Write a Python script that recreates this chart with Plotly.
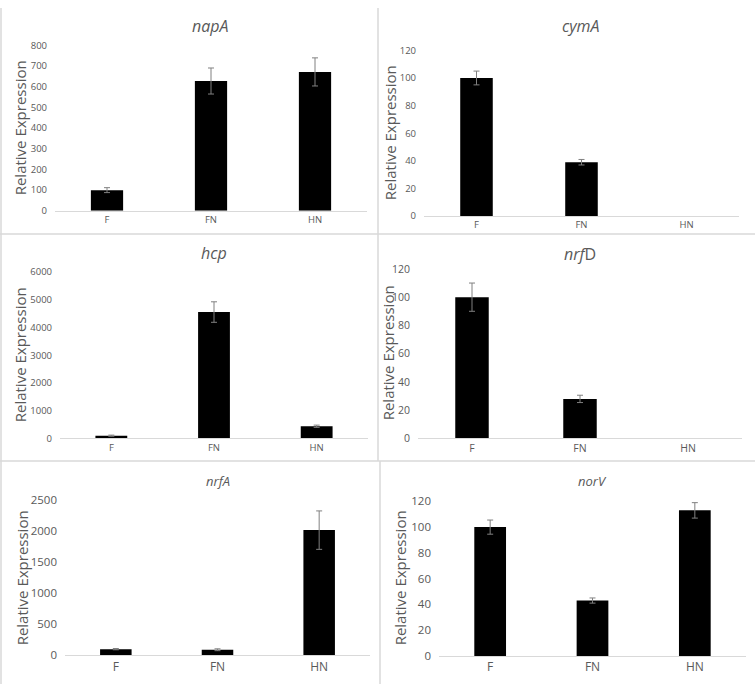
import plotly.graph_objects as go

W, H = 755, 691

categories = ["F", "FN", "HN"]

napA_vals = [100, 628, 672]
napA_err = [12, 63, 68]
cymA_vals = [100, 39, 0]
cymA_err = [5, 2, None]
hcp_vals = [100, 4560, 440]
hcp_err = [20, 370, 40]
nrfD_vals = [100, 28, 0]
nrfD_err = [10, 2.6, None]
nrfA_vals = [100, 90, 2020]
nrfA_err = [10, 15, 310]
norV_vals = [100, 43, 113]
norV_err = [5.5, 2, 6]

titles = ["<i>napA</i>", "<i>cymA</i>", "<i>hcp</i>", "<i>nrf</i>D", "<i>nrfA</i>", "<i>norV</i>"]
y_max = [800, 120, 6000, 120, 2500, 120]
y_dtick = [100, 20, 1000, 20, 500, 20]
y_title = "Relative Expression"

series = [
    (napA_vals, napA_err), (cymA_vals, cymA_err), (hcp_vals, hcp_err),
    (nrfD_vals, nrfD_err), (nrfA_vals, nrfA_err), (norV_vals, norV_err),
]

# layout geometry in pixels: x0, x1, ytop, ybottom
boxes = [
    (55, 367, 38.3, 207.3),
    (424, 739, 43.3, 212.7),
    (60, 368, 270, 440),
    (418, 742, 266.7, 440),
    (65, 370, 503.3, 661.7),
    (439, 746, 504.3, 662.3),
]
title_pos = [(211, 18, 16), (581, 18, 16), (214, 250, 16), (580, 251, 16), (218, 483, 13), (592, 483, 13)]
ytitle_pos = [(20, 123), (390, 128), (20, 355), (388, 353), (22, 583), (400, 583)]
tick_size = [9.5, 9.5, 9.5, 10.5, 11.5, 11.5]
xtick_size = [9.5, 9.5, 9.5, 10.5, 12, 12]
ytitle_size = [15, 15, 15, 15, 15, 15]

GRAY = "#595959"
fig = go.Figure()
layout = dict(
    width=W, height=H, margin=dict(l=0, r=0, t=0, b=0),
    paper_bgcolor="white", plot_bgcolor="white", showlegend=False,
    font=dict(family="Open Sans", color=GRAY),
)
annotations = []
for i, ((vals, err), (x0, x1, yt, yb)) in enumerate(zip(series, boxes)):
    n = "" if i == 0 else str(i + 1)
    shown = [j for j, v in enumerate(vals) if v > 0]
    fig.add_trace(go.Bar(
        x=[categories[j] for j in shown], y=[vals[j] for j in shown], width=0.31,
        marker=dict(color="black", line=dict(width=0)),
        xaxis="x" + n, yaxis="y" + n,
    ))
    eb = [j for j in shown if err[j] is not None]
    fig.add_trace(go.Scatter(
        x=[categories[j] for j in eb], y=[vals[j] for j in eb], mode="markers",
        marker=dict(size=1, opacity=0),
        error_y=dict(type="data", array=[err[j] for j in eb], visible=True,
                     color="#808080", thickness=1, width=3),
        xaxis="x" + n, yaxis="y" + n, hoverinfo="skip",
    ))
    layout["xaxis" + n] = dict(
        domain=[x0 / W, x1 / W], anchor="y" + n, range=[-0.5, 2.5],
        type="category", categoryorder="array", categoryarray=categories,
        tickvals=categories, ticktext=categories,
        showline=True, linecolor="#d9d9d9", linewidth=1, showgrid=False, zeroline=False,
        ticks="", tickfont=dict(size=xtick_size[i], color=GRAY), fixedrange=True,
    )
    layout["yaxis" + n] = dict(
        domain=[1 - yb / H, 1 - yt / H], anchor="x" + n, range=[0, y_max[i]],
        dtick=y_dtick[i], showline=False, showgrid=False, zeroline=False,
        ticks="", ticklabelstandoff=7, tickfont=dict(size=tick_size[i], color=GRAY),
    )
    tx, ty, ts = title_pos[i]
    annotations.append(dict(text=titles[i], x=tx / W, y=1 - ty / H, xref="paper", yref="paper",
                            showarrow=False, font=dict(size=ts, color=GRAY), xanchor="center", yanchor="middle"))
    ax, ay = ytitle_pos[i]
    annotations.append(dict(text=y_title, x=ax / W, y=1 - ay / H, xref="paper", yref="paper",
                            showarrow=False, textangle=-90, font=dict(size=ytitle_size[i], color=GRAY),
                            xanchor="center", yanchor="middle"))
layout["annotations"] = annotations

BORDER = "#d9d9d9"
def vline(x, y0, y1):
    return dict(type="line", xref="paper", yref="paper", x0=x / W, x1=x / W, y0=1 - y0 / H, y1=1 - y1 / H,
                line=dict(color=BORDER, width=1.5))
def hline(y, x0, x1):
    return dict(type="line", xref="paper", yref="paper", x0=x0 / W, x1=x1 / W, y0=1 - y / H, y1=1 - y / H,
                line=dict(color=BORDER, width=1.5))
layout["shapes"] = [
    vline(378, 0, 463), vline(380, 463, 691), vline(1, 0, 691),
    hline(231, 0, 755), hline(463, 0, 755),
]
fig.update_layout(**layout)
fig.write_html("out.html")
